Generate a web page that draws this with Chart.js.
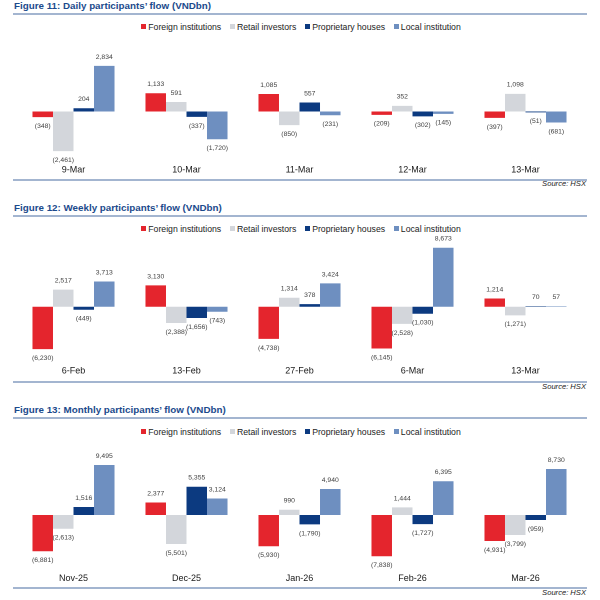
<!DOCTYPE html>
<html>
<head>
<meta charset="utf-8">
<script src="https://cdn.jsdelivr.net/npm/chart.js@4.4.0/dist/chart.umd.min.js"></script>
<style>
    body { margin: 0; background: #fff; font-family: Arial, "Liberation Sans", sans-serif; }
    #page { position: relative; width: 600px; height: 600px; overflow: hidden; }
    .title { position: absolute; left: 14px; font-weight: bold; font-size: 9.8px; color: #1B4A8C; line-height: 12px; white-space: nowrap; }
    .rule { position: absolute; left: 13px; width: 574px; height: 1.5px; background: #A3B5D0; }
    .source { position: absolute; right: 14px; font-style: italic; font-size: 7.6px; color: #222; line-height: 9px; }
    .legend { position: absolute; left: 0; width: 602px; text-align: center; font-size: 8.7px; color: #222; line-height: 10px; white-space: nowrap; }
    .legend span.item { margin: 0 4.4px; }
    .legend span.box { display: inline-block; width: 5px; height: 5px; margin-right: 2px; vertical-align: 1px; }
    canvas { position: absolute; left: 0; }
</style>
</head>
<body>
<div id="page"></div>
<script>
    const seriesNames = ['Foreign institutions', 'Retail investors', 'Proprietary houses', 'Local institution'];
    const seriesColors = ['#E4252D', '#D3D6DB', '#0C3A80', '#6E8FC0'];

    // Figure 11 - daily
    const dailyLabels = ['9-Mar', '10-Mar', '11-Mar', '12-Mar', '13-Mar'];
    const dailyForeign = [-348, 1133, 1085, -209, -397];
    const dailyRetail = [-2461, 591, -850, 352, 1098];
    const dailyProp = [204, -337, 557, -302, -51];
    const dailyLocal = [2834, -1720, -231, -145, -681];

    // Figure 12 - weekly
    const weeklyLabels = ['6-Feb', '13-Feb', '27-Feb', '6-Mar', '13-Mar'];
    const weeklyForeign = [-6230, 3130, -4738, -6145, 1214];
    const weeklyRetail = [2517, -2388, 1314, -2528, -1271];
    const weeklyProp = [-449, -1656, 378, -1030, 70];
    const weeklyLocal = [3713, -743, 3424, 8673, 57];

    // Figure 13 - monthly
    const monthlyLabels = ['Nov-25', 'Dec-25', 'Jan-26', 'Feb-26', 'Mar-26'];
    const monthlyForeign = [-6881, 2377, -5930, -7838, -4931];
    const monthlyRetail = [-2613, -5501, 990, 1444, -3799];
    const monthlyProp = [1516, 5355, -1790, -1727, -959];
    const monthlyLocal = [9495, 3124, 4940, 6395, 8730];

    const page = document.getElementById('page');

    function fmt(v) {
        const s = Math.abs(v).toLocaleString('en-US');
        return v < 0 ? '(' + s + ')' : s;
    }

    // draws the value above/below every bar
    const valueLabels = {
        id: 'valueLabels',
        afterDatasetsDraw(chart) {
            const ctx = chart.ctx;
            ctx.save();
            ctx.font = '6.8px Arial, "Liberation Sans", sans-serif';
            ctx.fillStyle = '#404040';
            ctx.textAlign = 'center';
            ctx.textBaseline = 'middle';
            chart.data.datasets.forEach((ds, i) => {
                chart.getDatasetMeta(i).data.forEach((bar, j) => {
                    const v = ds.data[j];
                    const y = v >= 0 ? bar.y - 9 : bar.y + 9;
                    ctx.fillText(fmt(v), bar.x, y);
                });
            });
            ctx.restore();
        }
    };

    function addDiv(cls, top, html) {
        const d = document.createElement('div');
        d.className = cls;
        d.style.top = top + 'px';
        d.innerHTML = html;
        page.appendChild(d);
        return d;
    }

    function buildFigure(fig) {
        addDiv('title', fig.titleY - 6, fig.title);
        addDiv('rule', fig.ruleTop, '');
        addDiv('rule', fig.ruleBottom, '');
        addDiv('source', fig.sourceY - 4.5, 'Source: HSX');

        let legendHtml = '';
        seriesNames.forEach((name, i) => {
            legendHtml += '<span class="item"><span class="box" style="background:' + seriesColors[i] + '"></span>' + name + '</span>';
        });
        addDiv('legend', fig.legendY - 5, legendHtml);

        const canvas = document.createElement('canvas');
        canvas.width = 600;
        canvas.height = fig.canvasBottom - fig.canvasTop;
        canvas.style.top = fig.canvasTop + 'px';
        page.appendChild(canvas);

        // y range so that zero and the px-per-1000 scale land where the reference has them
        const yMax = (fig.zeroY - fig.areaTop) / fig.pxPer1000 * 1000;
        const yMin = -(fig.areaBottom - fig.zeroY) / fig.pxPer1000 * 1000;
        const xHeight = fig.canvasBottom - fig.areaBottom;

        new Chart(canvas.getContext('2d'), {
            type: 'bar',
            data: {
                labels: fig.labels,
                datasets: fig.series.map((values, i) => ({
                    label: seriesNames[i],
                    data: values,
                    backgroundColor: seriesColors[i],
                    borderWidth: 0,
                    barPercentage: 1,
                    categoryPercentage: 0.726
                }))
            },
            options: {
                responsive: false,
                animation: false,
                devicePixelRatio: 2,
                layout: { padding: { top: fig.areaTop - fig.canvasTop, left: 17, right: 18, bottom: 0 } },
                plugins: { legend: { display: false }, tooltip: { enabled: false } },
                scales: {
                    x: {
                        grid: { display: false },
                        border: { display: false },
                        ticks: {
                            color: '#1a1a1a',
                            font: { size: 9, family: 'Arial, "Liberation Sans", sans-serif' },
                            padding: -5.5,
                            maxRotation: 0,
                            autoSkip: false
                        },
                        afterFit: function (scale) { scale.height = xHeight; }
                    },
                    y: {
                        min: yMin,
                        max: yMax,
                        ticks: { display: false, stepSize: 1000 },
                        border: { display: false },
                        grid: {
                            drawTicks: false,
                            lineWidth: 1,
                            color: c => (c.tick && c.tick.value === 0 ? '#D9D9D9' : 'rgba(0,0,0,0)')
                        }
                    }
                }
            },
            plugins: [valueLabels]
        });
    }

    buildFigure({
        title: 'Figure 11: Daily participants\u2019 flow (VNDbn)',
        titleY: 6, ruleTop: 13, ruleBottom: 179, sourceY: 183.5, legendY: 27,
        canvasTop: 36, canvasBottom: 180, areaTop: 46, areaBottom: 162.2,
        zeroY: 111.5, pxPer1000: 16.1,
        labels: dailyLabels,
        series: [dailyForeign, dailyRetail, dailyProp, dailyLocal]
    });

    buildFigure({
        title: 'Figure 12: Weekly participants\u2019 flow (VNDbn)',
        titleY: 208.3, ruleTop: 215, ruleBottom: 381, sourceY: 386, legendY: 229.3,
        canvasTop: 236, canvasBottom: 381, areaTop: 242, areaBottom: 363,
        zeroY: 306.7, pxPer1000: 6.8,
        labels: weeklyLabels,
        series: [weeklyForeign, weeklyRetail, weeklyProp, weeklyLocal]
    });

    buildFigure({
        title: 'Figure 13: Monthly participants\u2019 flow (VNDbn)',
        titleY: 410, ruleTop: 417, ruleBottom: 587, sourceY: 592.3, legendY: 431.7,
        canvasTop: 442, canvasBottom: 588, areaTop: 450, areaBottom: 570.5,
        zeroY: 515, pxPer1000: 5.27,
        labels: monthlyLabels,
        series: [monthlyForeign, monthlyRetail, monthlyProp, monthlyLocal]
    });
</script>
</body>
</html>
